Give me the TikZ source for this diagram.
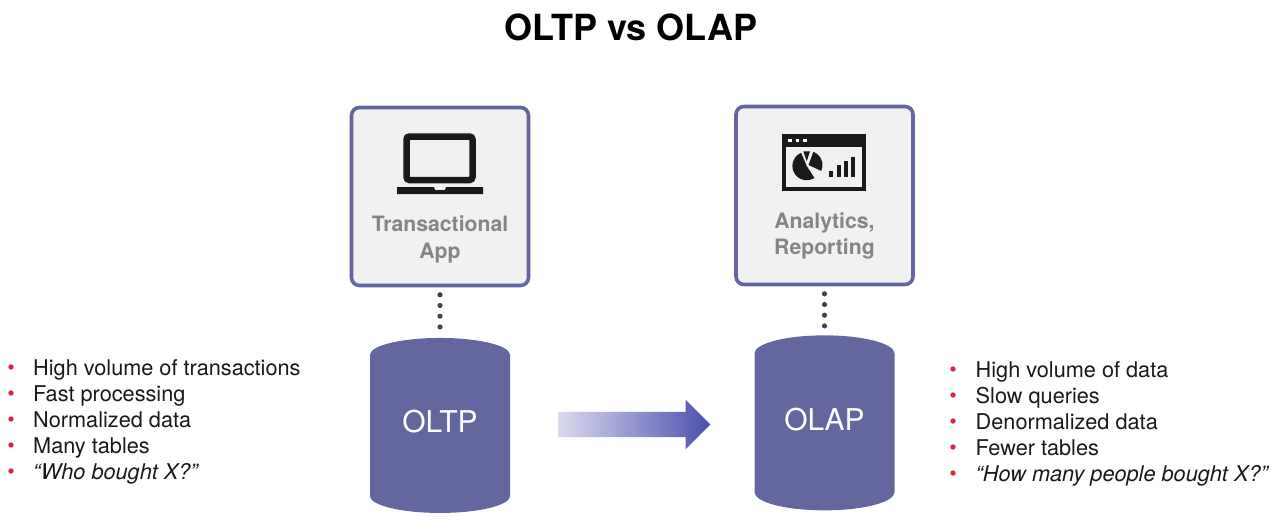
\documentclass[tikz,border=0pt]{standalone}
\usepackage{fontspec}
\setmainfont{TeX Gyre Heros}
\usetikzlibrary{shapes.geometric,shapes.arrows}
\definecolor{dbblue}{HTML}{63669F}
\definecolor{boxgray}{HTML}{F1F1F1}
\definecolor{labelgray}{HTML}{858585}
\definecolor{dotgray}{HTML}{444444}
\definecolor{iconblack}{HTML}{1A1A1A}
\definecolor{bulletred}{HTML}{D5283C}
\definecolor{flowlight}{HTML}{DADAEE}
\definecolor{flowdark}{HTML}{4B4FAC}
\tikzset{
  appbox/.style = {draw=dbblue, fill=boxgray, line width=3.6pt, rounded corners=8pt,
    minimum width=177pt, minimum height=178pt, inner sep=0pt},
  applabel/.style = {text=labelgray, font=\fontsize{21.2}{26.5}\selectfont\bfseries, align=center, inner sep=0pt},
  database/.style = {cylinder, shape border rotate=90, aspect=0.45, fill=dbblue,
    minimum width=140pt, minimum height=175pt, inner sep=0pt, font=\fontsize{30}{36}\selectfont},
  dblabel/.style = {text=white, inner sep=0pt, font=\fontsize{30}{36}\selectfont},
  dots/.style = {draw=dotgray, line width=5.2pt, line cap=round, dash pattern=on 0pt off 10.7pt,
    shorten <=7.5pt, shorten >=8pt},
  listitem/.style = {anchor=base west, inner sep=0pt, text=black!90, font=\fontsize{21.7}{26}\selectfont},
  bulletdot/.style = {circle, fill=bulletred, minimum size=5.4pt, inner sep=0pt},
}
\begin{document}
\begin{tikzpicture}[
    x = 1pt,
    y = -1pt]
  \useasboundingbox (0,0) rectangle (1279,530);
  \node [font=\fontsize{36}{44}\selectfont\bfseries] (title) at (631,27) {OLTP vs OLAP};

  \node [appbox] (app) at (440,196.5) {};
  \node [appbox] (bi) at (824.5,195.5) {};
  \node [applabel] (applabel) at (440,239.5) {Transactional\\App};
  \node [applabel] (bilabel) at (824.5,236) {Analytics,\\Reporting};

  % laptop
  \draw [iconblack, line width=6.5pt, rounded corners=3pt] (406.5,136.5) rectangle (472.5,180);
  \fill [iconblack] (397,187) -- (434,187) -- (435,190) -- (445,190) -- (446,187) -- (483,187)
    -- (483,194) -- (397,194) -- cycle;

  % report window
  \fill [iconblack] (782,134) rectangle (866,191);
  \fill [boxgray] (786.3,147.3) rectangle (861.7,186.5);
  \foreach \sx in {788.3,795.8,803.3} {
    \fill [white] (\sx,139) rectangle +(3.6,3.4);
  }
  \fill [iconblack] (806.7,166) -- ++(113:14.3pt) arc (113:303:14.3pt) -- cycle;
  \fill [iconblack] (808.5,165) -- ++(70:14pt) arc (70:-25:14pt) -- cycle;
  \fill [iconblack] (803.3,151.3) -- (810,151.3) -- (806.7,161.3) -- cycle;
  \foreach \bx/\by in {829.3/171.3,836.8/165.3,844/161.3,851.3/157.3} {
    \fill [iconblack] (\bx,\by) rectangle (\bx+3.7,177.3);
  }

  \node [database] (oltp) at (440,434) {\phantom{OLTP}};
  \node [database] (olap) at (824.5,432) {\phantom{OLAP}};
  \node [dblabel] (oltplabel) at (440,422) {OLTP};
  \node [dblabel] (olaplabel) at (824.5,419.5) {OLAP};
  \draw [dots] (app.south) -- (oltp.north);
  \draw [dots] (bi.south) -- (olap.north);

  \node [single arrow, shape border rotate=0, minimum height=152pt, minimum width=49pt,
    single arrow head extend=12pt, inner sep=12.5pt, draw=none,
    left color=flowlight, right color=flowdark] (flow) at (628,424.5) {};

  \foreach \i/\txt in {1/High volume of transactions, 2/Fast processing, 3/Normalized data,
      4/Many tables, 5/\textit{“Who bought X?”}} {
    \node [listitem] (left\i) at (33,349+26*\i) {\txt};
    \node [bulletdot] (leftdot\i) at (11,341+26*\i) {};
  }
  \foreach \i/\txt in {1/High volume of data, 2/Slow queries, 3/Denormalized data,
      4/Fewer tables, 5/\textit{“How many people bought X?”}} {
    \node [listitem] (right\i) at (975.5,351+26*\i) {\txt};
    \node [bulletdot] (rightdot\i) at (953,343+26*\i) {};
  }
\end{tikzpicture}
\end{document}
